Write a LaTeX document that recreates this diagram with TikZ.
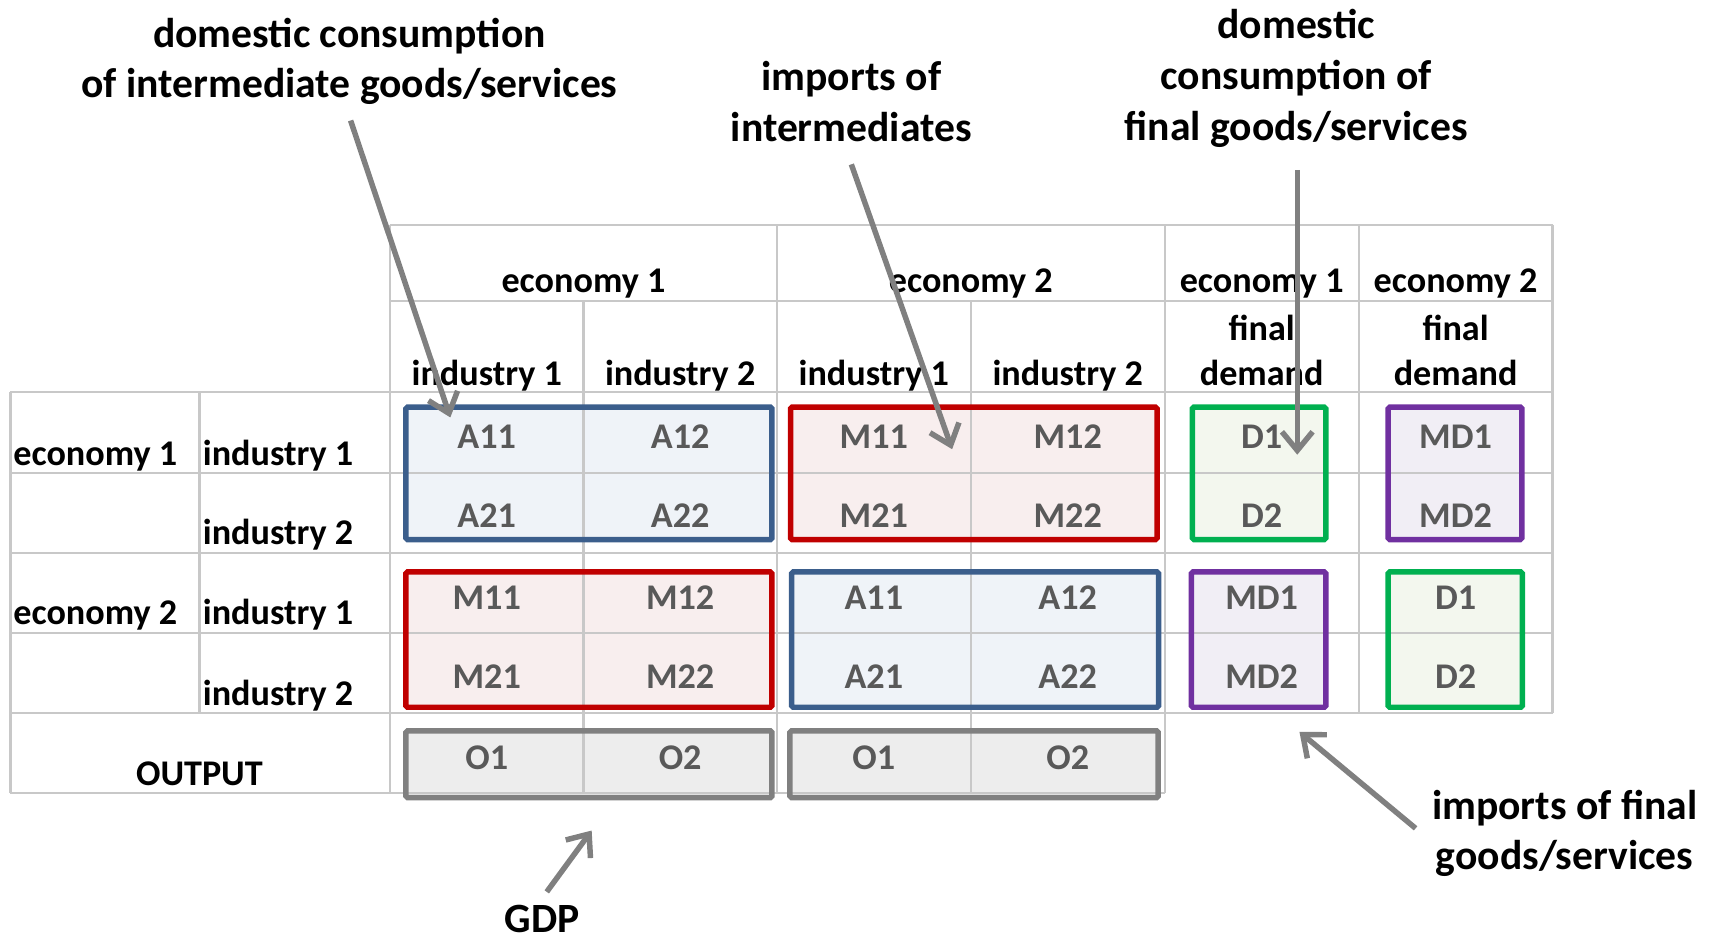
\documentclass[tikz,border=0pt]{standalone}
\usepackage{fontspec}
\setmainfont{Carlito}
\usetikzlibrary{arrows.meta}
\definecolor{gridc}{HTML}{C8C8C8}
\definecolor{bluec}{HTML}{3B5E8C}
\definecolor{bluef}{HTML}{EFF3F8}
\definecolor{redc}{HTML}{C00000}
\definecolor{redf}{HTML}{F8EEEE}
\definecolor{greenc}{HTML}{00B050}
\definecolor{greenf}{HTML}{F3F7EE}
\definecolor{purplec}{HTML}{7030A0}
\definecolor{purplef}{HTML}{F1EEF5}
\definecolor{grayc}{HTML}{808080}
\definecolor{grayf}{HTML}{EDEDED}
\definecolor{celltext}{HTML}{595959}
\definecolor{arrowc}{HTML}{808080}
\tikzset{
  gridline/.style={draw=gridc, line width=2pt},
  tbl/.style={font=\fontsize{33}{40}\selectfont\bfseries, inner sep=0pt, anchor=base},
  cell/.style={tbl, text=celltext},
  note/.style={font=\fontsize{38}{46}\selectfont\bfseries, inner sep=0pt, anchor=base},
  boxline/.style={line width=5pt, rounded corners=1.5pt},
  pointer/.style={draw=arrowc, line width=5pt, -{Straight Barb[length=17pt,width=28pt]}},
}
\begin{document}
\begin{tikzpicture}[x=1pt,y=-1pt]
\useasboundingbox (0,0) rectangle (1568,861);
% ---- box fills
\fill[bluef]   (370.5,371.5) rectangle (704.5,492.5);
\fill[redf]    (721.5,371.5) rectangle (1056,492.5);
\fill[greenf]  (1088.3,371.5) rectangle (1210,492.5);
\fill[purplef] (1267,371.5) rectangle (1389,492.5);
\fill[redf]    (370.5,522) rectangle (704.5,645.5);
\fill[bluef]   (722.5,522) rectangle (1057.5,645.5);
\fill[purplef] (1087.3,522) rectangle (1210,645.5);
\fill[greenf]  (1267,522) rectangle (1389.5,645.5);
\fill[grayf]   (370.5,667) rectangle (704.5,728);
\fill[grayf]   (721,667) rectangle (1057,728);
% ---- grid
\draw[gridline] (356,205) -- (1417,205);
\draw[gridline] (356,275) -- (1417,275);
\foreach \yy in {358,432,505,578,651} {\draw[gridline] (9.5,\yy) -- (1417,\yy);}
\draw[gridline] (9.5,724) -- (1063,724);
\draw[gridline] (9.5,358) -- (9.5,724);
\draw[gridline] (182,358) -- (182,651);
\draw[gridline] (356,205) -- (356,724);
\draw[gridline] (532.5,275) -- (532.5,724);
\draw[gridline] (709,205) -- (709,724);
\draw[gridline] (886,275) -- (886,724);
\draw[gridline] (1063,205) -- (1063,724);
\draw[gridline] (1240,205) -- (1240,651);
\draw[gridline] (1417,205) -- (1417,651);
% ---- box outlines
\draw[boxline, draw=bluec]   (370.5,371.5) rectangle (704.5,492.5);
\draw[boxline, draw=redc]    (721.5,371.5) rectangle (1056,492.5);
\draw[boxline, draw=greenc]  (1088.3,371.5) rectangle (1210,492.5);
\draw[boxline, draw=purplec] (1267,371.5) rectangle (1389,492.5);
\draw[boxline, draw=redc]    (370.5,522) rectangle (704.5,645.5);
\draw[boxline, draw=bluec]   (722.5,522) rectangle (1057.5,645.5);
\draw[boxline, draw=purplec] (1087.3,522) rectangle (1210,645.5);
\draw[boxline, draw=greenc]  (1267,522) rectangle (1389.5,645.5);
\draw[boxline, draw=grayc]   (370.5,667) rectangle (704.5,728);
\draw[boxline, draw=grayc]   (721,667) rectangle (1057,728);
% ---- column headers
\node[tbl] (h-e1) at (532.5,267) {economy 1};
\node[tbl] (h-e2) at (886,267) {economy 2};
\node[tbl] (h-fe1) at (1151.5,267) {economy 1};
\node[tbl] (h-fe2) at (1328.5,267) {economy 2};
\node[tbl] (h-i11) at (444.25,352) {industry 1};
\node[tbl] (h-i12) at (620.75,352) {industry 2};
\node[tbl] (h-i21) at (797.5,352) {industry 1};
\node[tbl] (h-i22) at (974.5,352) {industry 2};
\node[tbl] (h-f1) at (1151.5,311) {final};
\node[tbl] (h-d1) at (1151.5,352) {demand};
\node[tbl] (h-f2) at (1328.5,311) {final};
\node[tbl] (h-d2) at (1328.5,352) {demand};
% ---- row headers
\node[tbl, anchor=base west] (r-e1) at (12,425) {economy 1};
\node[tbl, anchor=base west] (r-i11) at (185,425) {industry 1};
\node[tbl, anchor=base west] (r-i12) at (185,497) {industry 2};
\node[tbl, anchor=base west] (r-e2) at (12,570) {economy 2};
\node[tbl, anchor=base west] (r-i21) at (185,570) {industry 1};
\node[tbl, anchor=base west] (r-i22) at (185,644) {industry 2};
\node[tbl] (r-out) at (182,717) {OUTPUT};
% ---- cells row block 1
\node[cell] (c1a) at (444.25,409) {A11};
\node[cell] (c1b) at (620.75,409) {A12};
\node[cell] (c1c) at (797.5,409) {M11};
\node[cell] (c1d) at (974.5,409) {M12};
\node[cell] (c1e) at (1151.5,409) {D1};
\node[cell] (c1f) at (1328.5,409) {MD1};
\node[cell] (c2a) at (444.25,481) {A21};
\node[cell] (c2b) at (620.75,481) {A22};
\node[cell] (c2c) at (797.5,481) {M21};
\node[cell] (c2d) at (974.5,481) {M22};
\node[cell] (c2e) at (1151.5,481) {D2};
\node[cell] (c2f) at (1328.5,481) {MD2};
% ---- cells row block 2
\node[cell] (c3a) at (444.25,556) {M11};
\node[cell] (c3b) at (620.75,556) {M12};
\node[cell] (c3c) at (797.5,556) {A11};
\node[cell] (c3d) at (974.5,556) {A12};
\node[cell] (c3e) at (1151.5,556) {MD1};
\node[cell] (c3f) at (1328.5,556) {D1};
\node[cell] (c4a) at (444.25,628) {M21};
\node[cell] (c4b) at (620.75,628) {M22};
\node[cell] (c4c) at (797.5,628) {A21};
\node[cell] (c4d) at (974.5,628) {A22};
\node[cell] (c4e) at (1151.5,628) {MD2};
\node[cell] (c4f) at (1328.5,628) {D2};
% ---- output
\node[cell] (o1a) at (444.25,702) {O1};
\node[cell] (o1b) at (620.75,702) {O2};
\node[cell] (o2a) at (797.5,702) {O1};
\node[cell] (o2b) at (974.5,702) {O2};
% ---- annotations
\node[note] (n1a) at (319,43) {domestic consumption};
\node[note] (n1b) at (319,89) {of intermediate goods/services};
\node[note] (n2a) at (777,83) {imports of};
\node[note] (n2b) at (777,129) {intermediates};
\node[note] (n3a) at (1183,35) {domestic};
\node[note] (n3b) at (1183,82) {consumption of};
\node[note] (n3c) at (1183,128) {final goods/services};
\node[note] (n4a) at (1428,748) {imports of final};
\node[note] (n4b) at (1428,794) {goods/services};
\node[note] (n5) at (495,851) {GDP};
% ---- arrows
\coordinate (a1s) at (320,110);
\coordinate (a1e) at (411,381);
\coordinate (a2s) at (777,150);
\coordinate (a2e) at (869,410);
\coordinate (a3s) at (1184,155);
\coordinate (a3e) at (1184,415);
\coordinate (a4s) at (1292,756);
\coordinate (a4e) at (1186,668);
\coordinate (a5s) at (499,814);
\coordinate (a5e) at (540,758);
\draw[pointer] (a1s) -- (a1e);
\draw[pointer] (a2s) -- (a2e);
\draw[pointer] (a3s) -- (a3e);
\draw[pointer] (a4s) -- (a4e);
\draw[pointer] (a5s) -- (a5e);
\end{tikzpicture}
\end{document}
